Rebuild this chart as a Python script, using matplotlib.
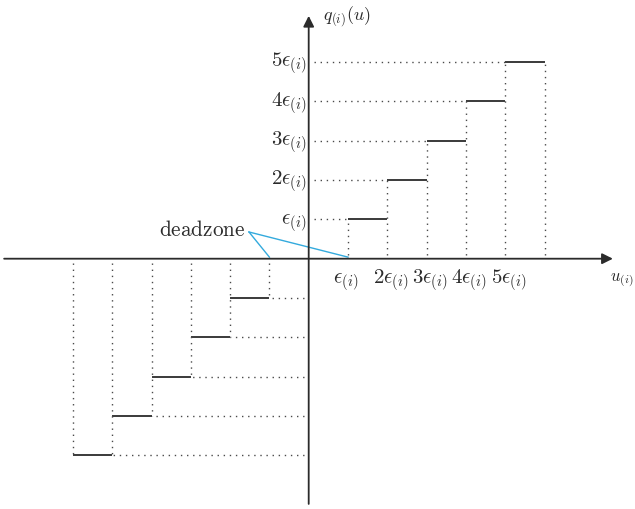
import matplotlib
matplotlib.use("Agg")
import matplotlib.pyplot as plt

plt.rcParams['mathtext.fontset'] = 'cm'
plt.rcParams['font.family'] = 'serif'

# quantizer staircase: level k is held on [k, k+1) (in units of eps)
step_starts = [1, 2, 3, 4, 5]
step_levels = [1, 2, 3, 4, 5]
deadzone = (-1, 1)

y_tick_labels = [r'$\epsilon_{(i)}$', r'$2\epsilon_{(i)}$', r'$3\epsilon_{(i)}$',
                 r'$4\epsilon_{(i)}$', r'$5\epsilon_{(i)}$']
x_tick_labels = [r'$\epsilon_{(i)}$', r'$2\epsilon_{(i)}$', r'$3\epsilon_{(i)}$',
                 r'$4\epsilon_{(i)}$', r'$5\epsilon_{(i)}$']

# pixel geometry of the reference
W, H = 635, 509
ox, oy, unit = 308.7, 258.7, 39.3

fig = plt.figure(figsize=(W / 100, H / 100), dpi=100)
ax = fig.add_axes([0, 0, 1, 1])
ax.set_xlim(-ox / unit, (W - ox) / unit)
ax.set_ylim(-(H - oy) / unit, oy / unit)
ax.axis('off')

ink = '#2b2b2b'
dot = dict(color='#4a4a4a', lw=1.0, linestyle=(0, (1, 3.4)))
solid = dict(color=ink, lw=1.3, solid_capstyle='butt')

# axes with arrows
ax.annotate('', xy=(7.74, 0), xytext=(-7.75, 0),
            arrowprops=dict(arrowstyle='-|>', color=ink, lw=1.3, mutation_scale=16,
                            shrinkA=0, shrinkB=0))
ax.annotate('', xy=(0, 6.18), xytext=(0, -6.24),
            arrowprops=dict(arrowstyle='-|>', color=ink, lw=1.3, mutation_scale=16,
                            shrinkA=0, shrinkB=0))

for sign in (1, -1):
    for s, lv in zip(step_starts, step_levels):
        x0, x1, y = sign * s, sign * (s + 1), sign * lv
        ax.plot([x0, x1], [y, y], **solid)
        # dotted guide back to the vertical axis
        ax.plot([sign * 0.13, x0], [y, y], **dot)
        # dotted drop from the horizontal axis to the step
        ax.plot([x0, x0], [sign * 0.1, y], **dot)
    last = step_starts[-1] + 1
    ax.plot([sign * last, sign * last], [sign * 0.1, sign * step_levels[-1]], **dot)

# tick labels
for lv, lab in zip(step_levels, y_tick_labels):
    ax.text(-0.05, lv - 0.12, lab, ha='right', va='baseline', fontsize=15, color=ink)
for s, lab in zip(step_starts, x_tick_labels):
    ax.text(s - 0.37, -0.62, lab, ha='left', va='baseline', fontsize=15, color=ink)

ax.text(7.66, -0.57, r'$u_{(i)}$', ha='left', va='baseline', fontsize=12, color=ink)
ax.text(0.37, 6.07, r'$q_{(i)}(u)$', ha='left', va='baseline', fontsize=13, color=ink)

# deadzone annotation
ax.text(-3.8, 0.58, r'$\mathrm{deadzone}$', ha='left', va='baseline', fontsize=15.3, color=ink)
tip = (-1.52, 0.68)
for d in deadzone:
    ax.plot([tip[0], d], [tip[1], 0.04], color='#33aadd', lw=1.0)

fig.savefig('out.png', dpi=100)
